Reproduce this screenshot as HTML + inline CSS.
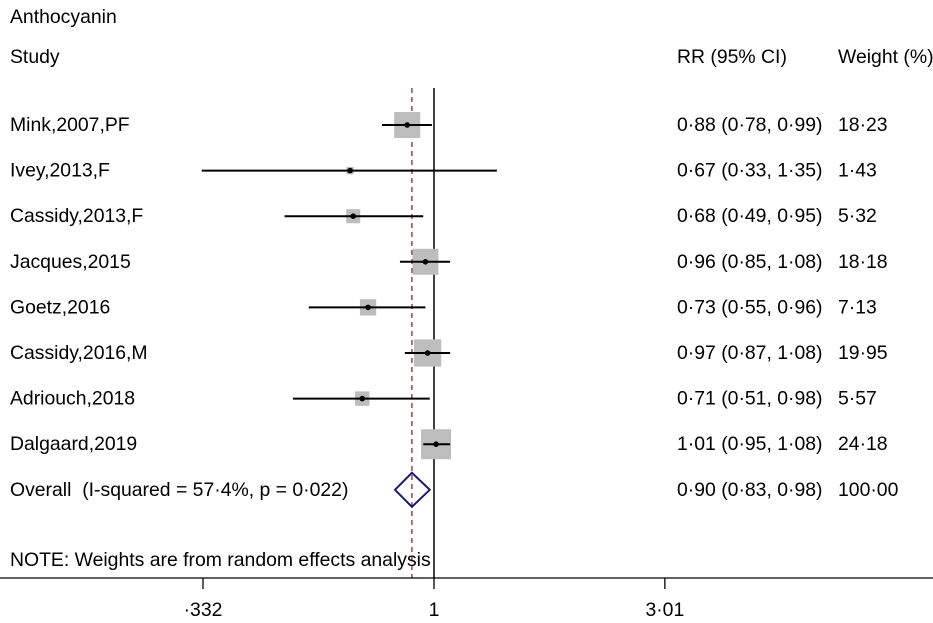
<!DOCTYPE html>
<html><head><meta charset="utf-8"><style>
html,body{margin:0;padding:0;background:#fff;}
svg{display:block;font-family:"Liberation Sans",Arial,sans-serif;}
text{font-size:19.4px;fill:#000;white-space:pre;}
</style></head><body>
<svg id="plot" width="933" height="623" viewBox="0 0 933 623">
<text x="10" y="23">Anthocyanin</text>
<text x="10" y="63">Study</text>
<text x="677" y="63">RR (95% CI)</text>
<text x="838" y="63">Weight (%)</text>
<g id="marks"></g>
<line x1="0" y1="578" x2="933" y2="578" stroke="#000" stroke-width="1.3"/>
<g id="ticks"></g>
<text x="10" y="566">NOTE: Weights are from random effects analysis</text>
</svg>
<script>
const studies=["Mink,2007,PF","Ivey,2013,F","Cassidy,2013,F","Jacques,2015","Goetz,2016","Cassidy,2016,M","Adriouch,2018","Dalgaard,2019"];
const rr=[0.88,0.67,0.68,0.96,0.73,0.97,0.71,1.01];
const lo=[0.78,0.33,0.49,0.85,0.55,0.87,0.51,0.95];
const hi=[0.99,1.35,0.95,1.08,0.96,1.08,0.98,1.08];
const weights=[18.23,1.43,5.32,18.18,7.13,19.95,5.57,24.18];
const rrLabels=["0·88 (0·78, 0·99)","0·67 (0·33, 1·35)","0·68 (0·49, 0·95)","0·96 (0·85, 1·08)","0·73 (0·55, 0·96)","0·97 (0·87, 1·08)","0·71 (0·51, 0·98)","1·01 (0·95, 1·08)"];
const weightLabels=["18·23","1·43","5·32","18·18","7·13","19·95","5·57","24·18"];
const overall=[0.90,0.83,0.98];
const overallLabel="Overall  (I-squared = 57·4%, p = 0·022)";
const overallRR="0·90 (0·83, 0·98)";
const overallW="100·00";
const tickVals=[0.332,1,3.01];
const tickLabels=["·332","1","3·01"];

const NS="http://www.w3.org/2000/svg";
const X=v=>434+209.5*Math.log(v);
const Y=i=>125+i*45.6;
const g=document.getElementById('marks');
function mk(tag,attrs,parent){const e=document.createElementNS(NS,tag);for(const k in attrs)e.setAttribute(k,attrs[k]);(parent||g).appendChild(e);return e;}
function txt(x,y,s){const t=mk('text',{x:x,y:y+6});t.textContent=s;return t;}

let l=mk('line',{x1:X(1),y1:88,x2:X(1),y2:578,stroke:'#000','stroke-width':1.5});


l=mk('line',{x1:X(overall[0]),y1:88,x2:X(overall[0]),y2:578,stroke:'#8b2b2b','stroke-width':1.3,'stroke-dasharray':'5,4'});



studies.forEach((s,i)=>{
  const y=Y(i);
  let t=txt(10,y,s);
  
  
  const side=6.1*Math.sqrt(weights[i]);
  let b=mk('rect',{x:X(rr[i])-side/2,y:y-side/2,width:side,height:side,fill:'#bdbdbd'});
  
  
  let c=mk('line',{x1:X(lo[i]),y1:y,x2:X(hi[i]),y2:y,stroke:'#000','stroke-width':2});
  
  
  let p=mk('circle',{cx:X(rr[i]),cy:y,r:2.8,fill:'#000'});
  
  
  t=txt(677,y,rrLabels[i]);
  
  
  t=txt(838,y,weightLabels[i]);
  
  
});
const oy=Y(8);
let t=txt(10,oy,overallLabel);


let d=mk('polygon',{points:`${X(overall[1])},${oy} ${X(overall[0])},${oy-17} ${X(overall[2])},${oy} ${X(overall[0])},${oy+17}`,fill:'none',stroke:'#1a1a6e','stroke-width':2});


t=txt(677,oy,overallRR);


t=txt(838,oy,overallW);



const tg=document.getElementById('ticks');
tickVals.forEach((v,i)=>{
  let tk=mk('line',{x1:X(v),y1:578,x2:X(v),y2:589,stroke:'#000','stroke-width':1.3},tg);
  
  
  let tl=mk('text',{x:X(v),y:616,'text-anchor':'middle'},tg);
  tl.textContent=tickLabels[i];
  
  
});
</script>
</body></html>
